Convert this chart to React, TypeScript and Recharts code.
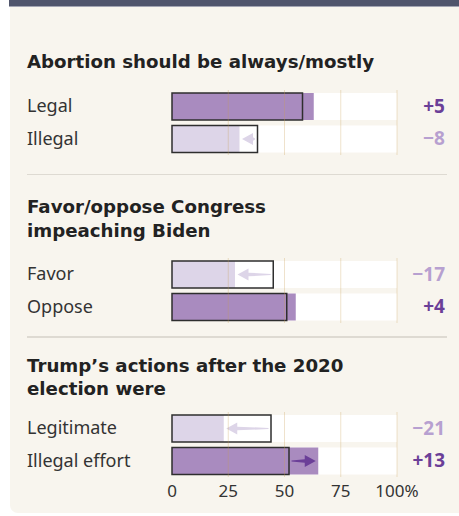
import { BarChart, Bar, XAxis, YAxis, Cell, ReferenceLine } from 'recharts';

const sectionTitles = [
  ['Abortion should be always/mostly'],
  ['Favor/oppose Congress', 'impeaching Biden'],
  ['Trump’s actions after the 2020', 'election were'],
];
const rowLabels = [
  ['Legal', 'Illegal'],
  ['Favor', 'Oppose'],
  ['Legitimate', 'Illegal effort'],
];
const previousShare = [
  [58, 38],
  [45, 51],
  [44, 52],
];
const currentShare = [
  [63, 30],
  [28, 55],
  [23, 65],
];
const xTicks = [0, 25, 50, 75, 100];

const FONT = '"Noto Sans", sans-serif';
const TITLE_FONT = '"DejaVu Sans", "Noto Sans", sans-serif';
const UP_FILL = '#a98bbf';
const DOWN_FILL = '#ddd5e8';
const UP_TEXT = '#6b3f98';
const DOWN_TEXT = '#b7a0d0';

const plotTops = [90, 257.5, 411.5];
const titleTops = [50.3, 195.3, 353.8];

function PrevShape(props: any) {
  const { x, y, width, height, payload } = props;
  const prevEnd = x + width;
  const nowEnd = x + (width * payload.now) / payload.prev;
  const gap = nowEnd - prevEnd;
  const cy = y + height / 2;
  let arrow = null;
  if (Math.abs(gap) > 14) {
    const d = Math.sign(gap);
    const tail = prevEnd + d * 2.5;
    const tip = nowEnd - d * 2.5;
    const base = tip - d * 11;
    const pts = [
      [tail, cy - 0.6],
      [base, cy - 1.8],
      [base, cy - 6],
      [tip, cy],
      [base, cy + 6],
      [base, cy + 1.8],
      [tail, cy + 0.6],
    ]
      .map((p) => p.join(','))
      .join(' ');
    arrow = <polygon points={pts} fill={d > 0 ? UP_TEXT : DOWN_FILL} />;
  }
  return (
    <g>
      {arrow}
      <rect x={x} y={y} width={width} height={height} fill="none" stroke="#2e2e2e" strokeWidth={1.5} />
    </g>
  );
}

function Section({ idx }: { idx: number }) {
  const data = rowLabels[idx].map((label, i) => ({
    label,
    prev: previousShare[idx][i],
    now: currentShare[idx][i],
  }));
  const showAxis = idx === 2;
  const height = showAxis ? 105 : 75;
  return (
    <div style={{ position: 'absolute', left: 0, top: plotTops[idx] - 5 }}>
      <BarChart
        width={459}
        height={height}
        data={data}
        layout="vertical"
        barSize={27}
        barGap={-27}
        barCategoryGap={5.5}
        margin={{ top: 5, right: 0, bottom: 5, left: 0 }}
      >
        <XAxis
          type="number"
          domain={[0, 100]}
          ticks={xTicks}
          hide={!showAxis}
          height={30}
          axisLine={false}
          tickLine={false}
          tickFormatter={(v) => (v === 100 ? '100%' : String(v))}
          tick={{ fill: '#333', fontSize: 17, fontFamily: FONT }}
        />
        <YAxis
          yAxisId="left"
          type="category"
          dataKey="label"
          width={172}
          axisLine={false}
          tickLine={false}
          tick={(p: any) => (
            <text x={27} y={p.y} dy="0.32em" fill="#333" fontSize={18} fontFamily={FONT}>
              {p.payload.value}
            </text>
          )}
        />
        <YAxis
          yAxisId="right"
          orientation="right"
          type="category"
          dataKey="label"
          width={62}
          axisLine={false}
          tickLine={false}
          tick={(p: any) => {
            const i = p.index;
            const diff = currentShare[idx][i] - previousShare[idx][i];
            return (
              <text
                x={445}
                y={p.y}
                dy="0.34em"
                textAnchor="end"
                fill={diff > 0 ? UP_TEXT : DOWN_TEXT}
                fontSize={19}
                fontWeight={700}
                fontFamily={FONT}
              >
                {diff > 0 ? `+${diff}` : `−${Math.abs(diff)}`}
              </text>
            );
          }}
        />
        <Bar yAxisId="left" dataKey="now" background={{ fill: '#fff' }} isAnimationActive={false}>
          {data.map((d, i) => (
            <Cell key={i} fill={d.now > d.prev ? UP_FILL : DOWN_FILL} />
          ))}
        </Bar>
        <Bar yAxisId="left" dataKey="prev" shape={<PrevShape />} isAnimationActive={false} />
        {[25, 50, 75, 100].map((v) => (
          <ReferenceLine key={v} yAxisId="left" x={v} stroke="#c9a055" strokeOpacity={0.3} strokeWidth={1} />
        ))}
      </BarChart>
    </div>
  );
}

export default function App() {
  return (
    <div
      style={{
        position: 'absolute',
        left: 0,
        top: 0,
        width: 459,
        height: 516,
        background: '#fff',
        fontFamily: FONT,
        overflow: 'hidden',
      }}
    >
      <div style={{ position: 'absolute', left: 9, top: 0, width: 460, height: 6, background: '#50556c' }} />
      <div style={{ position: 'absolute', left: 9, top: 6, width: 460, height: 1, background: '#a3a5b3' }} />
      <div
        style={{
          position: 'absolute',
          left: 10,
          top: 7,
          width: 460,
          height: 506,
          background: '#f8f5ee',
          borderBottomLeftRadius: 8,
        }}
      />
      {[173.5, 336].map((t) => (
        <div key={t} style={{ position: 'absolute', left: 27, top: t, width: 420, height: 1.5, background: '#dedad2' }} />
      ))}
      {sectionTitles.map((lines, i) => (
        <div
          key={i}
          style={{
            position: 'absolute',
            left: 27,
            top: titleTops[i],
            fontFamily: TITLE_FONT,
            fontSize: 18.2,
            lineHeight: '23.5px',
            fontWeight: 700,
            color: '#222',
            whiteSpace: 'nowrap',
          }}
        >
          {lines.map((l, j) => (
            <div key={j}>{l}</div>
          ))}
        </div>
      ))}
      {[0, 1, 2].map((i) => (
        <Section key={i} idx={i} />
      ))}
    </div>
  );
}
